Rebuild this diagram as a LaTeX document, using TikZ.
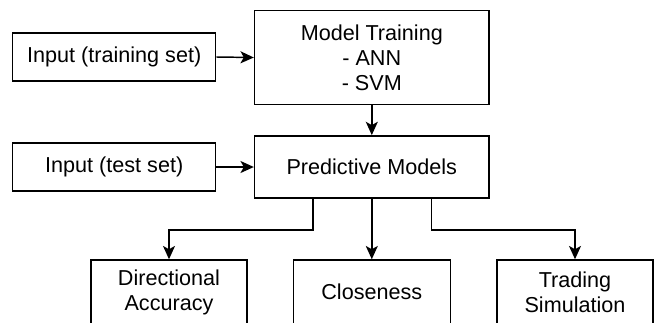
\documentclass[tikz,border=0pt]{standalone}
\usepackage{fontspec}
\setmainfont{Liberation Sans}
\usetikzlibrary{arrows.meta,calc}
\begin{document}
\begin{tikzpicture}[x=0.75pt,y=-0.75pt,
  box/.style={draw=black,line width=1.1pt,fill=white,inner sep=0pt,align=center,
    font=\fontsize{16.2pt}{18.8pt}\selectfont},
  arr/.style={draw=black,line width=1.1pt,-{Stealth[length=10pt,width=9pt,inset=2.5pt]}}]
\useasboundingbox (0,0) rectangle (654,322);
\node[box,minimum width=203*0.75pt,minimum height=48*0.75pt] (intrain) at (114.2,57) {Input (training set)};
\node[box,minimum width=203*0.75pt,minimum height=48*0.75pt] (intest) at (114.2,167) {Input (test set)};
\node[box,minimum width=234.5*0.75pt,minimum height=93.6*0.75pt] (mt) at (371.8,57.5) {Model Training\\- ANN\\- SVM};
\node[box,minimum width=234.5*0.75pt,minimum height=62.3*0.75pt] (pm) at (371.8,167) {Predictive Models};
\node[box,minimum width=156*0.75pt,minimum height=64*0.75pt] (da) at (169,292) {Directional\\Accuracy};
\node[box,minimum width=157*0.75pt,minimum height=64*0.75pt] (cl) at (371.8,292) {Closeness};
\node[box,minimum width=156*0.75pt,minimum height=64*0.75pt] (ts) at (575,292) {Trading\\Simulation};
\draw[arr] (intrain.east) -- (mt.west);
\draw[arr] (intest.east) -- (pm.west);
\draw[arr] (mt.south) -- (pm.south |- pm.north);
\coordinate (bl) at ($(pm.south west)!0.25!(pm.south east)$);
\coordinate (br) at ($(pm.south west)!0.753!(pm.south east)$);
\draw[arr] (bl) -- ++(0,31) -| (da.north);
\draw[arr] (pm.south) -- (cl.north);
\draw[arr] (br) -- ++(0,31) -| (ts.north);
\end{tikzpicture}
\end{document}
